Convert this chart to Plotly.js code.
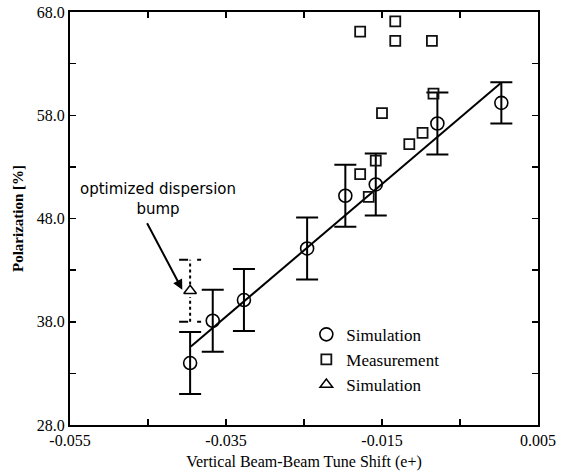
<!DOCTYPE html>
<html>
<head>
<meta charset="utf-8">
<script src="https://cdn.plot.ly/plotly-3.0.1.min.js"></script>
<style>html,body{margin:0;padding:0;background:#fff;}#chart{width:564px;height:474px;}</style>
</head>
<body>
<div id="chart"></div>
<script>
// Simulation (circles)
const simX = [-0.0396, -0.0367, -0.0327, -0.0246, -0.0197, -0.0158, -0.0079, 0.0003];
const simY = [34.0, 38.1, 40.1, 45.1, 50.2, 51.3, 57.2, 59.2];
const simErr = [3, 3, 3, 3, 3, 3, 3, 2];

// Measurement (squares)
const measX = [-0.0178, -0.0133, -0.0133, -0.0086, -0.0150, -0.0084, -0.0098, -0.0115, -0.0178, -0.0158, -0.0167];
const measY = [66.1, 67.1, 65.2, 65.2, 58.2, 60.1, 56.3, 55.2, 52.3, 53.6, 50.1];

// Simulation with optimized dispersion bump (triangle)
const triX = [-0.0396];
const triY = [41.0];
const triErr = [3];

// Fit line
const fitX = [-0.0395, 0.0002];
const fitY = [35.6, 61.1];

const xTickVals = [-0.055, -0.035, -0.015, 0.005];
const xTickText = ['-0.055', '-0.035', '-0.015', '0.005'];
const yTickVals = [28, 38, 48, 58, 68];
const yTickText = ['28.0', '38.0', '48.0', '58.0', '68.0'];

const serif = 'Liberation Serif, Times New Roman, serif';

const traces = [
  {
    x: fitX, y: fitY, mode: 'lines', showlegend: false, hoverinfo: 'skip',
    line: {color: '#000', width: 2}
  },
  {
    x: simX, y: simY, mode: 'markers', name: 'Simulation',
    marker: {symbol: 'circle-open', size: 13, color: '#000', line: {width: 1.6, color: '#000'}},
    error_y: {type: 'data', array: simErr, visible: true, color: '#000', thickness: 2, width: 11}
  },
  {
    x: measX, y: measY, mode: 'markers', name: 'Measurement',
    marker: {symbol: 'square-open', size: 10, color: '#111', line: {width: 1.8, color: '#111'}}
  },
  {
    x: triX, y: triY, mode: 'markers', name: 'Simulation',
    marker: {symbol: 'triangle-up-open', size: 11, color: '#000', line: {width: 1.5, color: '#000'}}
  }
];

// dotted error bar for the triangle point, built from its data
const shapes = [];
triX.forEach((xv, i) => {
  const lo = triY[i] - triErr[i], hi = triY[i] + triErr[i];
  shapes.push({type: 'line', xref: 'x', yref: 'y', x0: xv, x1: xv, y0: lo, y1: triY[i] - 0.6,
    line: {color: '#000', width: 2, dash: 'dot'}});
  shapes.push({type: 'line', xref: 'x', yref: 'y', x0: xv, x1: xv, y0: triY[i] + 0.6, y1: hi,
    line: {color: '#000', width: 2, dash: 'dot'}});
  [lo, hi].forEach(yv => {
    shapes.push({type: 'line', xref: 'x', yref: 'y', xsizemode: 'pixel', xanchor: xv,
      x0: -11, x1: 11, y0: yv, y1: yv, line: {color: '#000', width: 2, dash: 'dash'}});
  });
});

const layout = {
  width: 564, height: 474,
  margin: {l: 70, r: 26, t: 12, b: 49},
  paper_bgcolor: '#fff', plot_bgcolor: '#fff',
  font: {family: serif, color: '#000', size: 15},
  showlegend: true,
  legend: {
    x: 0.505, y: 0.262, xanchor: 'left', yanchor: 'top',
    bgcolor: 'rgba(0,0,0,0)', borderwidth: 0,
    font: {family: serif, size: 17, color: '#000'},
    itemwidth: 30, tracegroupgap: 0
  },
  xaxis: {
    range: [-0.055, 0.005], tickvals: xTickVals, ticktext: xTickText,
    showgrid: false, zeroline: false,
    showline: true, linecolor: '#000', linewidth: 2, mirror: 'allticks',
    ticks: 'inside', ticklen: 6, tickwidth: 1.5, tickcolor: '#000',
    minor: {dtick: 0.01, tick0: -0.055, ticks: 'inside', ticklen: 6, tickwidth: 1.5, tickcolor: '#000', showgrid: false},
    tickfont: {family: serif, size: 16},
    title: {text: 'Vertical Beam-Beam Tune Shift (e+)', font: {family: serif, size: 16}, standoff: 8}
  },
  yaxis: {
    range: [28, 68], tickvals: yTickVals, ticktext: yTickText,
    showgrid: false, zeroline: false,
    showline: true, linecolor: '#000', linewidth: 2, mirror: 'allticks',
    ticks: 'inside', ticklen: 6, tickwidth: 1.5, tickcolor: '#000',
    minor: {dtick: 5, tick0: 28, ticks: 'inside', ticklen: 6, tickwidth: 1.5, tickcolor: '#000', showgrid: false},
    tickfont: {family: serif, size: 16},
    title: {text: '<b>Polarization [%]</b>', font: {family: serif, size: 15}, standoff: 10}
  },
  shapes: shapes,
  annotations: [
    {
      xref: 'paper', yref: 'paper', x: 0.189, y: 0.548, xanchor: 'center', yanchor: 'middle',
      text: 'optimized dispersion<br>bump', showarrow: false,
      font: {family: 'DejaVu Sans, sans-serif', size: 15, color: '#000'}
    },
    {
      xref: 'x', yref: 'y', x: triX[0] - 0.001, y: triY[0] + 0.1, text: '',
      showarrow: true, arrowhead: 2, arrowsize: 1, arrowwidth: 2, arrowcolor: '#000',
      axref: 'pixel', ayref: 'pixel', ax: -36, ay: -68
    }
  ]
};

Plotly.newPlot('chart', traces, layout, {displayModeBar: false, staticPlot: true});
</script>
</body>
</html>
